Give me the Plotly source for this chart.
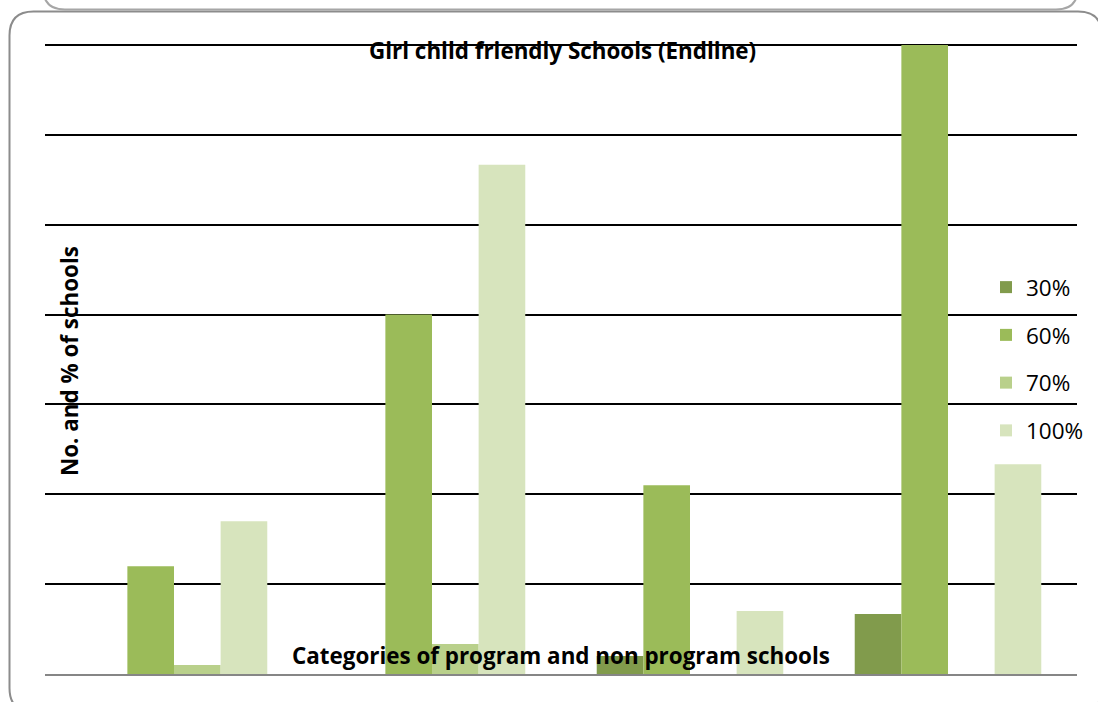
import plotly.graph_objects as go

# School categories (no tick labels are drawn on the axis)
categories = ["Category 1", "Category 2", "Category 3", "Category 4"]

# Series: share of girl-child-friendly criteria met
series_names = ["30%", "60%", "70%", "100%"]
values_30 = [0, 0, 0.6, 2.0]
values_60 = [3.6, 12, 6.3, 21]
values_70 = [0.3, 1, 0, 0]
values_100 = [5.1, 17, 2.1, 7]
series_values = [values_30, values_60, values_70, values_100]
series_colors = ["#819B4C", "#9BBB59", "#B9D08B", "#D7E4BD"]

gridline_values = [3, 6, 9, 12, 15, 18, 21]

W, H = 1098, 702


def px(x):
    return x / W


def py(y):
    return 1 - y / H


fig = go.Figure()
for name, vals, col in zip(series_names, series_values, series_colors):
    fig.add_trace(go.Bar(
        x=categories, y=vals, name=name, marker_color=col,
        marker_line_width=0, legendgroup=name,
    ))

FONT = "Open Sans"
LABEL_SIZE = 22.4


def rounded_path(x0, y0, x1, y1, r):
    return (f"M {px(x0)},{py(y0 + r)} "
            f"Q {px(x0)},{py(y0)} {px(x0 + r)},{py(y0)} "
            f"L {px(x1 - r)},{py(y0)} "
            f"Q {px(x1)},{py(y0)} {px(x1)},{py(y0 + r)} "
            f"L {px(x1)},{py(y1 - r)} "
            f"Q {px(x1)},{py(y1)} {px(x1 - r)},{py(y1)} "
            f"L {px(x0 + r)},{py(y1)} "
            f"Q {px(x0)},{py(y1)} {px(x0)},{py(y1 - r)} Z")


shapes = [
    # chart frame
    dict(type="path", xref="paper", yref="paper",
         path=rounded_path(9.5, 11.5, 1102, 712, 24),
         line=dict(color="#8C8C8C", width=2), layer="below"),
    # neighbouring frame above
    dict(type="path", xref="paper", yref="paper",
         path=rounded_path(43, -60, 1078, 9.5, 22),
         line=dict(color="#A6A6A6", width=2), layer="below"),
]

annotations = [
    dict(text="<b>Girl child friendly Schools (Endline)</b>", x=px(562), y=py(50),
         xref="paper", yref="paper", showarrow=False,
         font=dict(family=FONT, size=LABEL_SIZE, color="#000000"), xanchor="center", yanchor="middle"),
    dict(text="<b>Categories of program and non program schools</b>", x=px(561), y=py(655),
         xref="paper", yref="paper", showarrow=False,
         font=dict(family=FONT, size=LABEL_SIZE, color="#000000"), xanchor="center", yanchor="middle"),
    dict(text="<b>No. and % of schools</b>", x=px(69), y=py(361),
         xref="paper", yref="paper", showarrow=False, textangle=-90,
         font=dict(family=FONT, size=LABEL_SIZE, color="#000000"), xanchor="center", yanchor="middle"),
]

# plot area: x 45..1077 px, baseline at y 674 px, ~30 px per unit;
# the top is padded a little so the gridline at 21 stays visible
top_px = 38
px_per_unit = 29.95
fig.update_layout(
    width=W, height=H,
    margin=dict(l=0, r=0, t=0, b=0),
    paper_bgcolor="white", plot_bgcolor="white",
    barmode="group", bargap=0.277, bargroupgap=0,
    showlegend=True,
    legend=dict(x=px(986), y=py(266), xanchor="left", yanchor="top",
                bgcolor="rgba(0,0,0,0)", font=dict(family=FONT, size=22.5, color="#000000"),
                traceorder="grouped", tracegroupgap=15.5, itemwidth=30),
    xaxis=dict(domain=[px(45), px(1077)], showticklabels=False, ticks="",
               showline=True, linecolor="#868686", linewidth=2, showgrid=False),
    yaxis=dict(domain=[py(674), py(top_px)], range=[0, (674 - top_px) / px_per_unit],
               tickmode="array", tickvals=gridline_values, showticklabels=False, ticks="",
               showgrid=True, gridcolor="#000000", gridwidth=2, zeroline=False),
    shapes=shapes,
    annotations=annotations,
)

fig.write_html("out.html")
